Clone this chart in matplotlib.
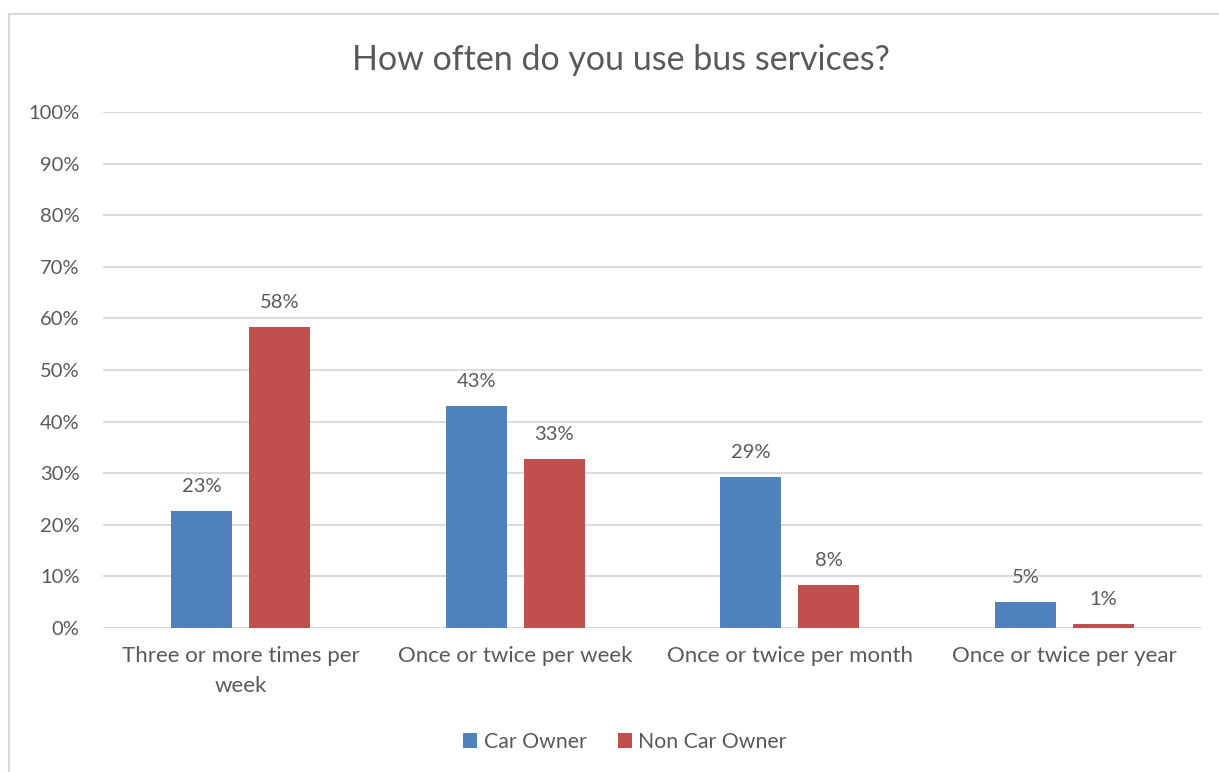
import matplotlib
matplotlib.use("Agg")
import matplotlib.pyplot as plt
from matplotlib.lines import Line2D
from matplotlib.patches import Patch
import numpy as np

categories = ["Three or more times per\nweek", "Once or twice per week",
              "Once or twice per month", "Once or twice per year"]
car_owner = [0.227, 0.430, 0.293, 0.050]
non_car_owner = [0.583, 0.328, 0.083, 0.008]
car_labels = ["23%", "43%", "29%", "5%"]
non_car_labels = ["58%", "33%", "8%", "1%"]
series_names = ["Car Owner", "Non Car Owner"]
title = "How often do you use bus services?"

plt.rcParams['font.family'] = ['Lato', 'DejaVu Sans']
TXT = "#595959"
GRID = "#d9d9d9"
BLUE = "#4F81BD"
RED = "#C0504D"

W, H = 1219, 772
fig = plt.figure(figsize=(W/100, H/100), dpi=100)
ax = fig.add_axes([103/W, 1-628/H, (1202-103)/W, (628-112)/H])

x = np.arange(len(categories))
bw = 0.222
off = 0.142
b1 = ax.bar(x - off, car_owner, bw, color=BLUE, zorder=3)
b2 = ax.bar(x + off, non_car_owner, bw, color=RED, zorder=3)

for rects, labs in ((b1, car_labels), (b2, non_car_labels)):
    for r, lab in zip(rects, labs):
        ax.annotate(lab, (r.get_x() + r.get_width()/2, r.get_height()),
                    xytext=(0, 11.5), textcoords="offset points",
                    ha="center", va="bottom", fontsize=14.5, color=TXT)

ax.set_xlim(-0.5, 3.5)
ax.set_ylim(0, 1.0)
ax.set_yticks(np.arange(0, 1.01, 0.1))
ax.set_yticklabels([f"{int(round(v*100))}%" for v in np.arange(0, 1.01, 0.1)])
ax.set_xticks(x)
ax.set_xticklabels(categories, fontsize=16, color=TXT, linespacing=1.6)
ax.tick_params(axis="both", length=0, labelcolor=TXT)
ax.tick_params(axis="y", labelsize=14.5, pad=17)
ax.tick_params(axis="x", pad=13)
ax.grid(axis="y", color=GRID, linewidth=1.3, zorder=0)
for s in ax.spines.values():
    s.set_visible(False)

fig.text(621/W, 1-60/H, title, ha="center", va="center",
         fontsize=24.5, color=TXT)

handles = [Patch(facecolor=BLUE, label=series_names[0]),
           Patch(facecolor=RED, label=series_names[1])]
leg = fig.legend(handles=handles, loc="center", bbox_to_anchor=(625/W, 1-742/H),
                 ncol=2, frameon=False, fontsize=15.3, handlelength=0.65,
                 handleheight=0.65, handletextpad=0.3, columnspacing=1.5,
                 labelcolor=TXT)

# outer chart frame (top and left edges visible)
fig.add_artist(Line2D([9/W, 1.0], [1-14/H, 1-14/H], color=GRID, linewidth=1.5,
                      transform=fig.transFigure))
fig.add_artist(Line2D([9/W, 9/W], [0, 1-14/H], color=GRID, linewidth=1.5,
                      transform=fig.transFigure))

fig.savefig("out.png", dpi=100, facecolor="white")
